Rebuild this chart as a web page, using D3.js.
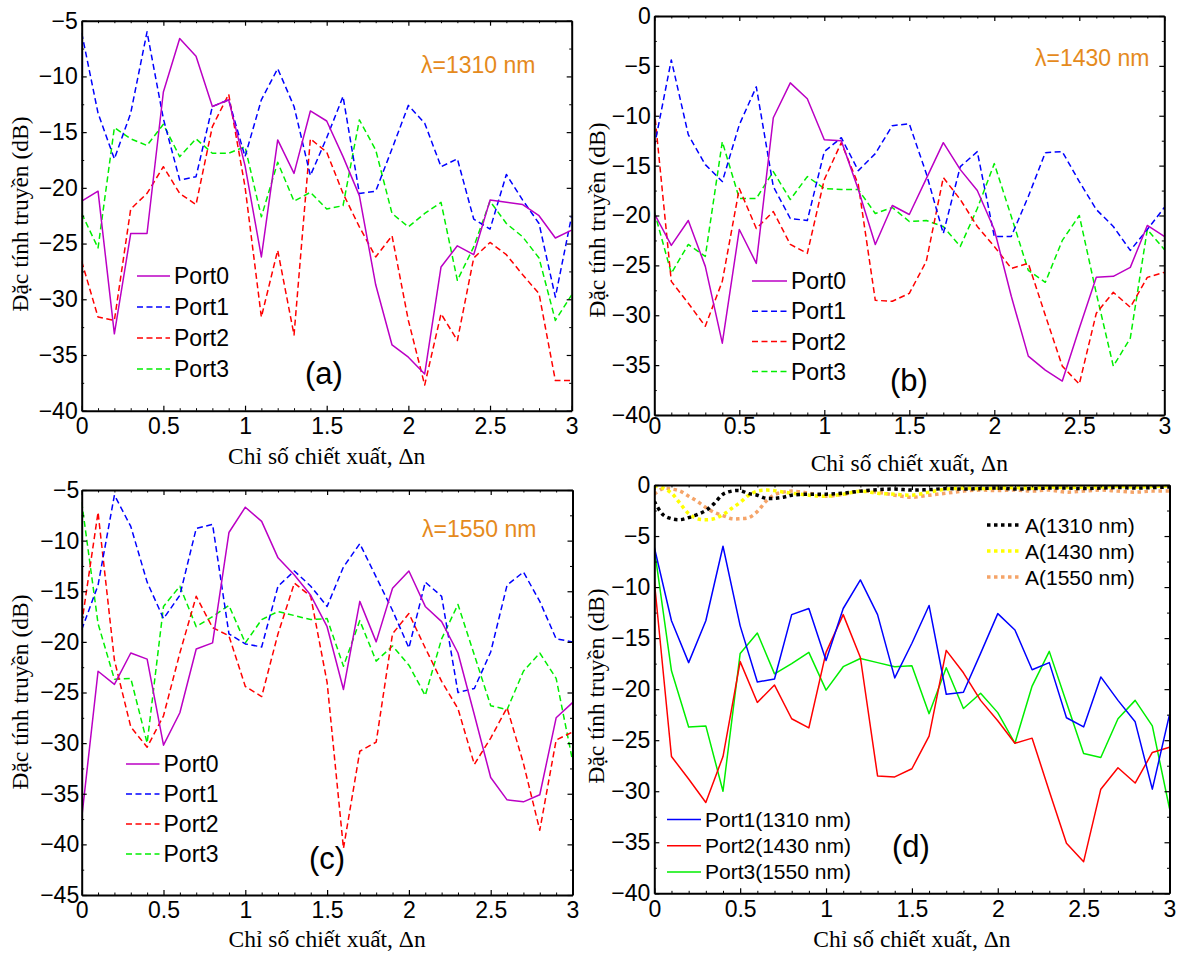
<!DOCTYPE html>
<html>
<head>
<meta charset="utf-8">
<script src="https://cdn.jsdelivr.net/npm/d3@7"></script>
<style>
  body { margin: 0; background: #fff; }
  svg { display: block; }
  .tick text { font-family: "Liberation Sans", Arial, sans-serif; font-size: 23px; fill: #000; }
</style>
</head>
<body>
<svg id="fig" width="1185" height="956"></svg>
<script>
// Refractive-index change (Δn) sample points
const dn = [0, 0.1, 0.2, 0.3, 0.4, 0.5, 0.6, 0.7, 0.8, 0.9, 1.0, 1.1, 1.2, 1.3, 1.4, 1.5,
            1.6, 1.7, 1.8, 1.9, 2.0, 2.1, 2.2, 2.3, 2.4, 2.5, 2.6, 2.7, 2.8, 2.9, 3.0];

// (a) λ = 1310 nm, transmission per port (dB)
const a_port0 = [-21.2, -20.3, -33.1, -24.1, -24.1, -11.4, -6.6, -8.2, -12.7, -12.1, -18.0, -26.2, -15.7, -18.7, -13.1, -14.0,
                 -17.2, -20.7, -28.7, -34.1, -35.2, -36.7, -27.1, -25.2, -26.0, -21.1, -21.3, -21.5, -22.5, -24.5, -23.8];
const a_port1 = [-6.1, -13.3, -17.4, -13.3, -6.0, -13.8, -19.3, -19.0, -12.7, -12.1, -17.2, -12.1, -9.3, -12.7, -18.9, -15.5,
                 -11.8, -20.5, -20.3, -16.5, -12.6, -14.2, -18.1, -17.4, -22.8, -23.7, -18.8, -21.1, -23.2, -29.8, -22.5];
const a_port2 = [-26.6, -31.6, -31.9, -21.9, -20.5, -18.1, -20.5, -21.5, -14.5, -11.6, -19.9, -31.6, -25.6, -33.2, -15.6, -16.8,
                 -20.5, -23.5, -26.2, -24.3, -31.9, -37.7, -31.3, -33.7, -26.3, -24.9, -26.0, -27.8, -29.5, -37.3, -37.3];
const a_port3 = [-22.3, -25.4, -14.6, -15.6, -16.2, -14.3, -17.2, -15.6, -16.9, -16.9, -16.3, -22.6, -17.7, -21.2, -20.4, -21.9,
                 -21.6, -13.9, -16.6, -22.3, -23.5, -22.3, -21.3, -28.3, -25.3, -21.2, -23.2, -24.4, -26.3, -31.9, -29.6];

// (b) λ = 1430 nm
const b_port0 = [-19.8, -23.0, -20.5, -25.1, -32.8, -21.4, -24.8, -10.2, -6.7, -8.3, -12.4, -12.5, -17.4, -22.9, -19.0, -19.9,
                 -16.3, -12.7, -15.4, -17.5, -21.4, -28.1, -34.1, -35.5, -36.6, -31.3, -26.2, -26.1, -25.2, -21.0, -22.1];
const b_port1 = [-13.1, -4.4, -11.9, -14.9, -16.6, -10.9, -7.1, -17.1, -20.3, -20.5, -13.6, -12.2, -15.5, -13.8, -11.0, -10.8,
                 -15.8, -21.8, -15.1, -13.6, -22.1, -22.1, -18.1, -13.7, -13.6, -16.6, -19.4, -21.1, -23.5, -21.4, -19.2];
const b_port2 = [-9.4, -26.6, -28.8, -31.1, -26.6, -17.3, -21.3, -19.6, -22.9, -23.8, -16.4, -12.7, -16.9, -28.5, -28.6, -27.8,
                 -24.6, -16.2, -18.4, -21.1, -23.1, -25.3, -24.8, -30.0, -35.1, -36.9, -29.8, -27.7, -29.2, -26.2, -25.7];
const b_port3 = [-19.6, -25.8, -22.9, -24.1, -12.6, -18.3, -18.3, -15.6, -18.4, -16.1, -17.3, -17.4, -17.4, -19.8, -19.2, -20.6,
                 -20.5, -21.1, -23.1, -19.3, -14.8, -20.1, -25.5, -26.7, -22.5, -20.0, -27.8, -35.1, -32.3, -21.4, -23.4];

// (c) λ = 1550 nm
const c_port0 = [-37.4, -22.9, -24.2, -21.1, -21.7, -30.2, -27.0, -20.7, -20.1, -9.2, -6.7, -8.1, -11.7, -13.4, -15.4, -18.5,
                 -24.7, -16.0, -20.0, -14.7, -13.0, -16.5, -18.0, -21.1, -27.2, -33.4, -35.6, -35.8, -35.1, -27.5, -26.0];
const c_port1 = [-18.8, -14.4, -5.5, -8.6, -14.1, -17.7, -15.4, -8.8, -8.4, -19.2, -20.2, -20.5, -14.5, -13.0, -14.5, -16.5,
                 -12.6, -10.3, -13.6, -16.9, -20.6, -14.1, -15.5, -25.0, -24.6, -21.0, -14.4, -13.1, -16.0, -19.7, -20.0];
const c_port2 = [-18.2, -7.2, -21.8, -28.4, -30.4, -27.3, -21.1, -15.5, -18.6, -19.4, -24.4, -25.4, -19.2, -14.2, -15.5, -24.0,
                 -40.4, -30.8, -29.9, -19.2, -17.2, -20.6, -23.9, -26.6, -32.1, -29.5, -26.5, -32.0, -38.6, -29.7, -28.9];
const c_port3 = [-6.2, -18.2, -23.7, -23.6, -30.0, -16.5, -14.5, -18.5, -17.5, -16.4, -20.1, -17.8, -17.0, -17.4, -17.8, -17.7,
                 -22.4, -17.9, -21.9, -20.4, -22.3, -25.3, -19.7, -16.3, -21.3, -26.3, -26.7, -22.9, -21.1, -23.6, -31.7];

// (d) insertion loss A at each wavelength, sampled more finely near Δn = 0
const aDn = [0, 0.05, 0.1, 0.15, 0.2, 0.25, 0.3, 0.35, 0.4, 0.45, 0.5, 0.55, 0.6, 0.65, 0.7, 0.75, 0.8, 0.9, 1.0,
             1.1, 1.2, 1.3, 1.4, 1.5, 1.6, 1.7, 1.8, 1.9, 2.0, 2.1, 2.2, 2.3, 2.4, 2.5, 2.6, 2.7, 2.8, 2.9, 3.0];
const A1310 = [-1.6, -2.9, -3.3, -3.4, -3.2, -2.9, -2.5, -1.8, -0.9, -0.6, -0.55, -0.85, -1.0, -1.3, -1.3, -1.2, -1.0, -0.9, -0.9,
               -0.8, -0.6, -0.45, -0.4, -0.5, -0.45, -0.35, -0.4, -0.35, -0.3, -0.4, -0.35, -0.3, -0.3, -0.35, -0.3, -0.25, -0.3, -0.25, -0.2];
const A1430 = [-0.1, -0.3, -0.8, -1.8, -2.8, -3.3, -3.4, -3.3, -2.9, -2.3, -1.7, -1.0, -0.6, -0.5, -0.55, -0.7, -0.8, -1.0, -1.1,
               -0.9, -0.6, -0.8, -0.9, -1.0, -0.7, -0.4, -0.3, -0.35, -0.3, -0.25, -0.3, -0.2, -0.25, -0.2, -0.2, -0.15, -0.2, -0.15, -0.1];
const A1550 = [-0.9, -0.35, -0.4, -0.6, -1.1, -1.6, -2.2, -2.7, -3.0, -3.3, -3.3, -3.2, -2.6, -1.6, -0.95, -0.7, -0.6, -0.8, -1.1,
               -0.9, -0.6, -0.7, -1.0, -1.2, -1.0, -0.8, -0.6, -0.5, -0.55, -0.5, -0.6, -0.5, -0.7, -0.6, -0.5, -0.6, -0.7, -0.6, -0.6];

const xTicks = [0, 0.5, 1, 1.5, 2, 2.5, 3];
const yTicksA = [-40, -35, -30, -25, -20, -15, -10, -5];
const yTicksC = [-45, -40, -35, -30, -25, -20, -15, -10, -5];
const yTicksBD = [-40, -35, -30, -25, -20, -15, -10, -5, 0];

const portNames = ["Port0", "Port1", "Port2", "Port3"];
const dPortNames = ["Port1(1310 nm)", "Port2(1430 nm)", "Port3(1550 nm)"];
const aNames = ["A(1310 nm)", "A(1430 nm)", "A(1550 nm)"];

const MAGENTA = "#bb00c4", BLUE = "#0000ff", RED = "#ff0000", GREEN = "#00ee00";
const LAMBDA = "#e58a1c";
const SANS = '"Liberation Sans", Arial, sans-serif';
const SERIF = '"Liberation Serif", "Times New Roman", serif';

const svg = d3.select("#fig");
svg.append("rect").attr("width", 1185).attr("height", 956).attr("fill", "#fff");

function drawPanel(p) {
  const x = d3.scaleLinear().domain([0, 3]).range([p.x0, p.x1]);
  const y = d3.scaleLinear().domain(p.yDomain).range([p.yBot, p.yTop]);
  const g = svg.append("g");

  const clipId = "clip-" + p.id;
  g.append("clipPath").attr("id", clipId).append("rect")
    .attr("x", p.x0).attr("y", p.yTop).attr("width", p.x1 - p.x0).attr("height", p.yBot - p.yTop);

  const plot = g.append("g").attr("clip-path", `url(#${clipId})`);
  p.series.forEach(s => {
    const line = d3.line().x(d => x(d[0])).y(d => y(d[1]));
    if (s.smooth) line.curve(d3.curveCatmullRom.alpha(0.5));
    plot.append("path")
      .datum(s.xs.map((v, i) => [v, s.ys[i]]))
      .attr("fill", "none")
      .attr("stroke", s.color)
      .attr("stroke-width", s.width || 1.5)
      .attr("stroke-dasharray", s.dash || null)
      .attr("stroke-linejoin", "round")
      .attr("d", line);
  });

  // Minor ticks (inward) on all four sides
  const xMinor = d3.range(0, 31).map(i => i / 10).filter(v => Math.abs(v * 2 - Math.round(v * 2)) > 1e-6);
  const yMinor = d3.range(p.yDomain[0], p.yDomain[1] + 0.01, 2.5).filter(v => v % 5 !== 0);
  const minor = (axis, tr) => g.append("g").attr("transform", tr)
    .call(axis.tickSize(-2.5).tickSizeOuter(0).tickFormat(""))
    .call(a => a.select(".domain").remove())
    .call(a => a.selectAll("line").attr("stroke", "#000").attr("stroke-width", 1));
  minor(d3.axisBottom(x).tickValues(xMinor), `translate(0,${p.yBot})`);
  minor(d3.axisTop(x).tickValues(xMinor), `translate(0,${p.yTop})`);
  minor(d3.axisLeft(y).tickValues(yMinor), `translate(${p.x0},0)`);
  minor(d3.axisRight(y).tickValues(yMinor), `translate(${p.x1},0)`);

  // Major ticks and labels
  const major = (axis, tr, pad, labels) => g.append("g").attr("transform", tr)
    .call(axis.tickSize(-5).tickSizeOuter(0).tickPadding(pad).tickFormat(labels ? d3.format("") : ""))
    .call(a => a.select(".domain").attr("stroke", "#000").attr("stroke-width", 2))
    .call(a => a.selectAll("line").attr("stroke", "#000").attr("stroke-width", 1.2));
  major(d3.axisBottom(x).tickValues(xTicks), `translate(0,${p.yBot})`, p.xPad, true);
  major(d3.axisTop(x).tickValues(xTicks), `translate(0,${p.yTop})`, 0, false);
  major(d3.axisLeft(y).tickValues(p.yTicks), `translate(${p.x0},0)`, p.yPad, true);
  major(d3.axisRight(y).tickValues(p.yTicks), `translate(${p.x1},0)`, 0, false);

  g.selectAll(".tick text").style("font-family", SANS).style("font-size", "23px").attr("fill", "#000");

  // Axis titles
  g.append("text").attr("x", (p.x0 + p.x1) / 2).attr("y", p.xTitleY)
    .attr("text-anchor", "middle").style("font-family", SERIF).style("font-size", "23.5px")
    .text("Chỉ số chiết xuất, Δn");
  g.append("text").attr("transform", `translate(${p.yTitleX},${p.yTitleMid}) rotate(-90)`)
    .attr("text-anchor", "middle").style("font-family", SERIF).style("font-size", "23.5px")
    .text("Đặc tính truyền (dB)");

  // Legends
  p.legends.forEach(L => {
    L.items.forEach((it, i) => {
      const ly = L.y0 + i * L.step;
      g.append("line").attr("x1", L.x0).attr("x2", L.x1).attr("y1", ly).attr("y2", ly)
        .attr("stroke", it.color).attr("stroke-width", it.width || 1.5)
        .attr("stroke-dasharray", it.dash || null);
      g.append("text").attr("x", L.x1 + 4).attr("y", ly + L.size * 0.36)
        .style("font-family", SANS).style("font-size", L.size + "px").text(it.name);
    });
  });

  // Panel tag and wavelength note
  g.append("text").attr("x", p.tag[0]).attr("y", p.tag[1]).attr("text-anchor", "middle")
    .style("font-family", SANS).style("font-size", "31px").text(p.tag[2]);
  if (p.lambda) {
    g.append("text").attr("x", p.lambda[0]).attr("y", p.lambda[1])
      .style("font-family", SANS).style("font-size", "23px").attr("fill", LAMBDA).text(p.lambda[2]);
  }
}

const DASH = "6,3.5";
const portStyles = [
  { color: MAGENTA },
  { color: BLUE, dash: DASH },
  { color: RED, dash: DASH },
  { color: GREEN, dash: DASH }
];
const mk = (ys, st) => Object.assign({ xs: dn, ys }, st);
const portLegend = (x0, x1, y0, step) => ({
  x0, x1, y0, step, size: 23,
  items: portNames.map((n, i) => Object.assign({ name: n }, portStyles[i]))
});

drawPanel({
  id: "a", x0: 81.7, x1: 571.7, yTop: 20.7, yBot: 410.7, yDomain: [-40, -5], yTicks: yTicksA,
  xPad: 7, yPad: 4, xTitleY: 464, yTitleX: 28, yTitleMid: 214,
  series: [a_port3, a_port2, a_port1, a_port0].map((ys, k) => mk(ys, portStyles[3 - k])),
  legends: [portLegend(137, 170, 276, 31)],
  tag: [324, 384, "(a)"], lambda: [421, 73, "λ=1310 nm"]
});

drawPanel({
  id: "b", x0: 654.3, x1: 1164.3, yTop: 16, yBot: 415, yDomain: [-40, 0], yTicks: yTicksBD,
  xPad: 3, yPad: 3.5, xTitleY: 471, yTitleX: 605, yTitleMid: 220,
  series: [b_port3, b_port2, b_port1, b_port0].map((ys, k) => mk(ys, portStyles[3 - k])),
  legends: [portLegend(752, 787, 281, 30.2)],
  tag: [909, 391, "(b)"], lambda: [1035, 66, "λ=1430 nm"]
});

drawPanel({
  id: "c", x0: 81.7, x1: 572.5, yTop: 490, yBot: 895, yDomain: [-45, -5], yTicks: yTicksC,
  xPad: 7, yPad: 2.5, xTitleY: 947, yTitleX: 28, yTitleMid: 692,
  series: [c_port3, c_port2, c_port1, c_port0].map((ys, k) => mk(ys, portStyles[3 - k])),
  legends: [portLegend(126, 159.5, 764, 30)],
  tag: [327, 869, "(c)"], lambda: [422, 537, "λ=1550 nm"]
});

drawPanel({
  id: "d", x0: 654.3, x1: 1169.5, yTop: 485, yBot: 893.3, yDomain: [-40, 0], yTicks: yTicksBD,
  xPad: 7, yPad: 4, xTitleY: 947, yTitleX: 604, yTitleMid: 686,
  series: [
    mk(c_port3, { color: GREEN }),
    mk(b_port2, { color: RED }),
    mk(a_port1, { color: BLUE }),
    { xs: aDn, ys: A1550, color: "#f5a468", width: 3.5, dash: "3.5,3.5", smooth: true },
    { xs: aDn, ys: A1430, color: "#ffff00", width: 3.5, dash: "3.5,3.5", smooth: true },
    { xs: aDn, ys: A1310, color: "#000000", width: 3.5, dash: "3.5,3.5", smooth: true }
  ],
  legends: [
    { x0: 667, x1: 701, y0: 819.5, step: 26.2, size: 21,
      items: [{ name: dPortNames[0], color: BLUE }, { name: dPortNames[1], color: RED }, { name: dPortNames[2], color: GREEN }] },
    { x0: 987, x1: 1021, y0: 525, step: 26, size: 21,
      items: [{ name: aNames[0], color: "#000000", width: 3.5, dash: "3.5,3.5" },
              { name: aNames[1], color: "#ffff00", width: 3.5, dash: "3.5,3.5" },
              { name: aNames[2], color: "#f5a468", width: 3.5, dash: "3.5,3.5" }] }
  ],
  tag: [911, 857, "(d)"]
});
</script>
</body>
</html>
